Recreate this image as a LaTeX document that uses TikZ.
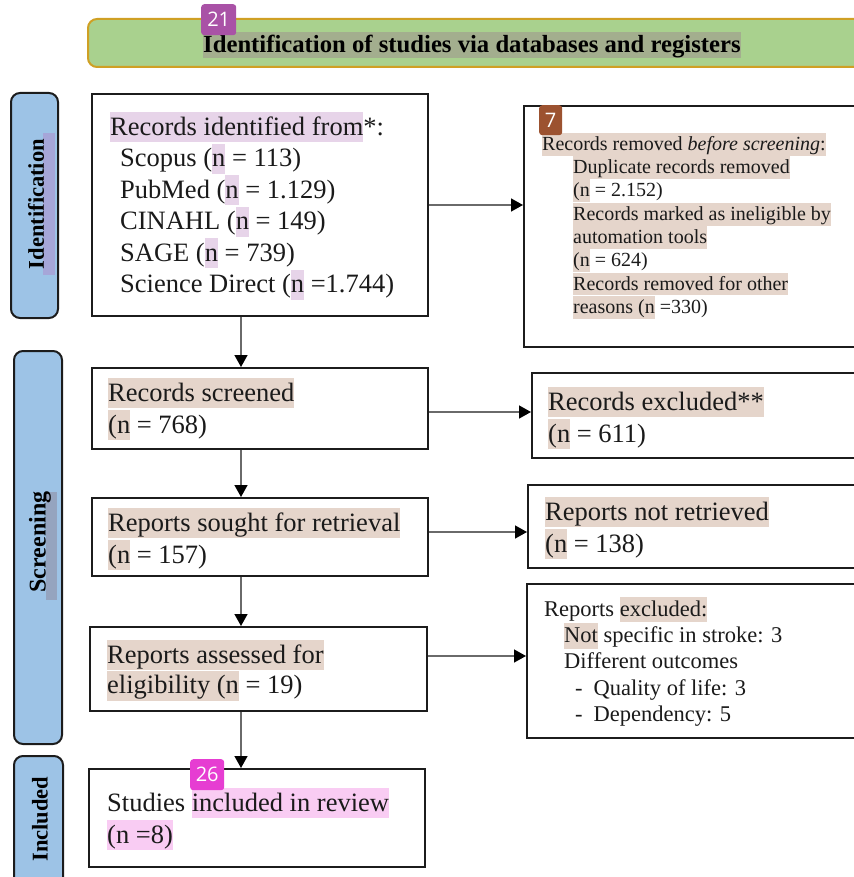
\documentclass[tikz,border=0pt]{standalone}
\usepackage{fontspec}
\setmainfont{Liberation Serif}
\newfontfamily\badgefont{Open Sans}
\usetikzlibrary{arrows.meta}
\definecolor{boxc}{HTML}{1C1C1C}
\definecolor{txtc}{HTML}{1A1A1A}
\definecolor{sideblue}{HTML}{9DC3E6}
\definecolor{titlegreen}{HTML}{A9D18E}
\definecolor{gold}{HTML}{CFA024}
\definecolor{hllav}{HTML}{E7D4E9}
\definecolor{hltan}{HTML}{E5D5CB}
\definecolor{hlpink}{HTML}{F9CCF3}
\definecolor{hltitle}{HTML}{A3AE8E}
\definecolor{hlid}{HTML}{A6A6D8}
\definecolor{hlscr}{HTML}{95A4BF}
\definecolor{arrc}{HTML}{6A6A6A}
\definecolor{bpurple}{HTML}{A952A6}
\definecolor{bbrown}{HTML}{9C5230}
\definecolor{bmagenta}{HTML}{E63DD2}
\newcommand\st{\rule[-0.27em]{0pt}{1.14em}}
\newcommand\hl[2]{{\setlength{\fboxsep}{0pt}\colorbox{#1}{\st#2}}}
\tikzset{
  box/.style={draw=boxc, line width=2pt, fill=white, inner sep=0pt, anchor=north west},
  side/.style={draw=boxc, line width=2pt, fill=sideblue, rounded corners=9pt, inner sep=0pt, anchor=north west},
  sidelabel/.style={inner sep=0pt, rotate=90, text=black, font=\fontsize{22.5}{26}\selectfont\bfseries},
  txt/.style={inner sep=0pt, anchor=north west, align=left, text=txtc},
  big/.style={font=\fontsize{26.5}{31.5}\selectfont},
  arr/.style={draw=arrc, line width=1.5pt, -{Triangle[length=12pt,width=13pt,color=black]}},
  badge/.style={rounded corners=3pt, inner sep=0pt, anchor=north west, text=white, font=\badgefont\fontsize{20}{22}\selectfont}
}
\begin{document}
\begin{tikzpicture}[x=1pt,y=-1pt]
\useasboundingbox (0,0) rectangle (853,877);

% title
\node[draw=gold, line width=2pt, fill=titlegreen, rounded corners=9pt, minimum width=800pt, minimum height=48pt, anchor=north west, inner sep=0pt] (title) at (87,18) {};
\node[anchor=base west, inner sep=0pt, text=black, font=\fontsize{24.7}{29}\selectfont\bfseries] (titletext) at (203,53)
  {{\setlength{\fboxsep}{0pt}\colorbox{hltitle}{\rule[-4pt]{0pt}{25pt}Identification of studies via databases and registers}}};

% side labels
\node[side, minimum width=47pt, minimum height=225pt] (sideid) at (10,92) {};
\node[side, minimum width=48pt, minimum height=393pt] (sidescr) at (13,350) {};
\node[side, minimum width=49pt, minimum height=150pt] (sideinc) at (13,755) {};
\fill[hlid] (43,133) rectangle (55,275);
\fill[hlscr] (46,492) rectangle (57,600);
\node[sidelabel] (lid) at (36,204) {Identification};
\node[sidelabel, font=\fontsize{24}{28}\selectfont\bfseries] (lscr) at (40,542) {Screening};
\node[sidelabel] (linc) at (40,819) {Included};

% boxes
\node[box, minimum width=336pt, minimum height=222pt] (ident) at (91,93) {};
\node[box, minimum width=350pt, minimum height=241pt] (removed) at (523,105) {};
\node[box, minimum width=336pt, minimum height=81pt] (screened) at (91,367) {};
\node[box, minimum width=340pt, minimum height=85pt] (excluded) at (531,372) {};
\node[box, minimum width=336pt, minimum height=78pt] (sought) at (91,497) {};
\node[box, minimum width=345pt, minimum height=83pt] (notret) at (527,484) {};
\node[box, minimum width=337pt, minimum height=84pt] (assessed) at (89,626) {};
\node[box, minimum width=345pt, minimum height=154pt] (rexcl) at (526,583) {};
\node[box, minimum width=336pt, minimum height=98pt] (included) at (88,768) {};

% texts
\node[txt, big] (identtext) at (110,111.9) {%
\hl{hllav}{Records identified from}*:\\
\hspace*{10pt}\st Scopus (\hl{hllav}{n} = 113)\\
\hspace*{10pt}\st PubMed (\hl{hllav}{n} = 1.129)\\
\hspace*{10pt}\st CINAHL (\hl{hllav}{n} = 149)\\
\hspace*{10pt}\st SAGE (\hl{hllav}{n} = 739)\\
\hspace*{10pt}\st Science Direct (\hl{hllav}{n} =1.744)};

\node[txt, font=\fontsize{20}{23.3}\selectfont] (removedtext) at (542,132.6) {%
\hl{hltan}{Records removed \textit{before screening}:}\\
\hspace*{31pt}\hl{hltan}{Duplicate records removed}\\
\hspace*{31pt}\hl{hltan}{(n} = 2.152)\\
\hspace*{31pt}\hl{hltan}{Records marked as ineligible by}\\
\hspace*{31pt}\hl{hltan}{automation tools}\\
\hspace*{31pt}\hl{hltan}{(n} = 624)\\
\hspace*{31pt}\hl{hltan}{Records removed for other}\\
\hspace*{31pt}\hl{hltan}{reasons (n} =330)};

\node[txt, font=\fontsize{26.5}{32}\selectfont] (screenedtext) at (108,377.9) {%
\hl{hltan}{Records screened}\\
\hl{hltan}{(n} = 768)};

\node[txt, font=\fontsize{26.5}{32}\selectfont] (excludedtext) at (548,386.9) {%
\hl{hltan}{Records excluded**}\\
\hl{hltan}{(n} = 611)};

\node[txt, font=\fontsize{26.5}{32}\selectfont] (soughttext) at (108,507.9) {%
\hl{hltan}{Reports sought for retrieval}\\
\hl{hltan}{(n} = 157)};

\node[txt, font=\fontsize{26.5}{32}\selectfont] (notrettext) at (545,496.9) {%
\hl{hltan}{Reports not retrieved}\\
\hl{hltan}{(n} = 138)};

\node[txt, font=\fontsize{26.5}{30.5}\selectfont] (assessedtext) at (107,639.9) {%
\hl{hltan}{Reports assessed for}\\
\hl{hltan}{eligibility (n} = 19)};

\node[txt, font=\fontsize{22.5}{26.3}\selectfont] (rexcltext) at (544,596.4) {%
\st Reports \hl{hltan}{excluded:}\\
\hspace*{20pt}\hl{hltan}{Not} specific in stroke: 3\\
\hspace*{20pt}\st Different outcomes\\
\hspace*{31pt}\st -\hspace{11pt}Quality of life: 3\\
\hspace*{31pt}\st -\hspace{11pt}Dependency: 5};

\node[txt, font=\fontsize{26.5}{32}\selectfont] (includedtext) at (107,788) {%
\st Studies \hl{hlpink}{included in review}\\
\hl{hlpink}{(n =8)}};

% arrows
\coordinate (ax) at (241,0);
\coordinate (h1) at (0,412);
\coordinate (h2) at (0,532);
\coordinate (h3) at (0,656);
\draw[arr] (ident.south -| ax) -- (screened.north -| ax);
\draw[arr] (screened.south -| ax) -- (sought.north -| ax);
\draw[arr] (sought.south -| ax) -- (assessed.north -| ax);
\draw[arr] (assessed.south -| ax) -- (included.north -| ax);
\draw[arr] (ident.east) -- (removed.west |- ident.east);
\draw[arr] (screened.east |- h1) -- (excluded.west |- h1);
\draw[arr] (sought.east |- h2) -- (notret.west |- h2);
\draw[arr] (assessed.east |- h3) -- (rexcl.west |- h3);

% badges
\node[badge, fill=bpurple, minimum width=35pt, minimum height=31pt] (b21) at (201,4) {21};
\node[badge, fill=bbrown, minimum width=23pt, minimum height=30pt] (b7) at (539,105) {7};
\node[badge, fill=bmagenta, minimum width=34pt, minimum height=31pt] (b26) at (190,759) {26};
\end{tikzpicture}
\end{document}
